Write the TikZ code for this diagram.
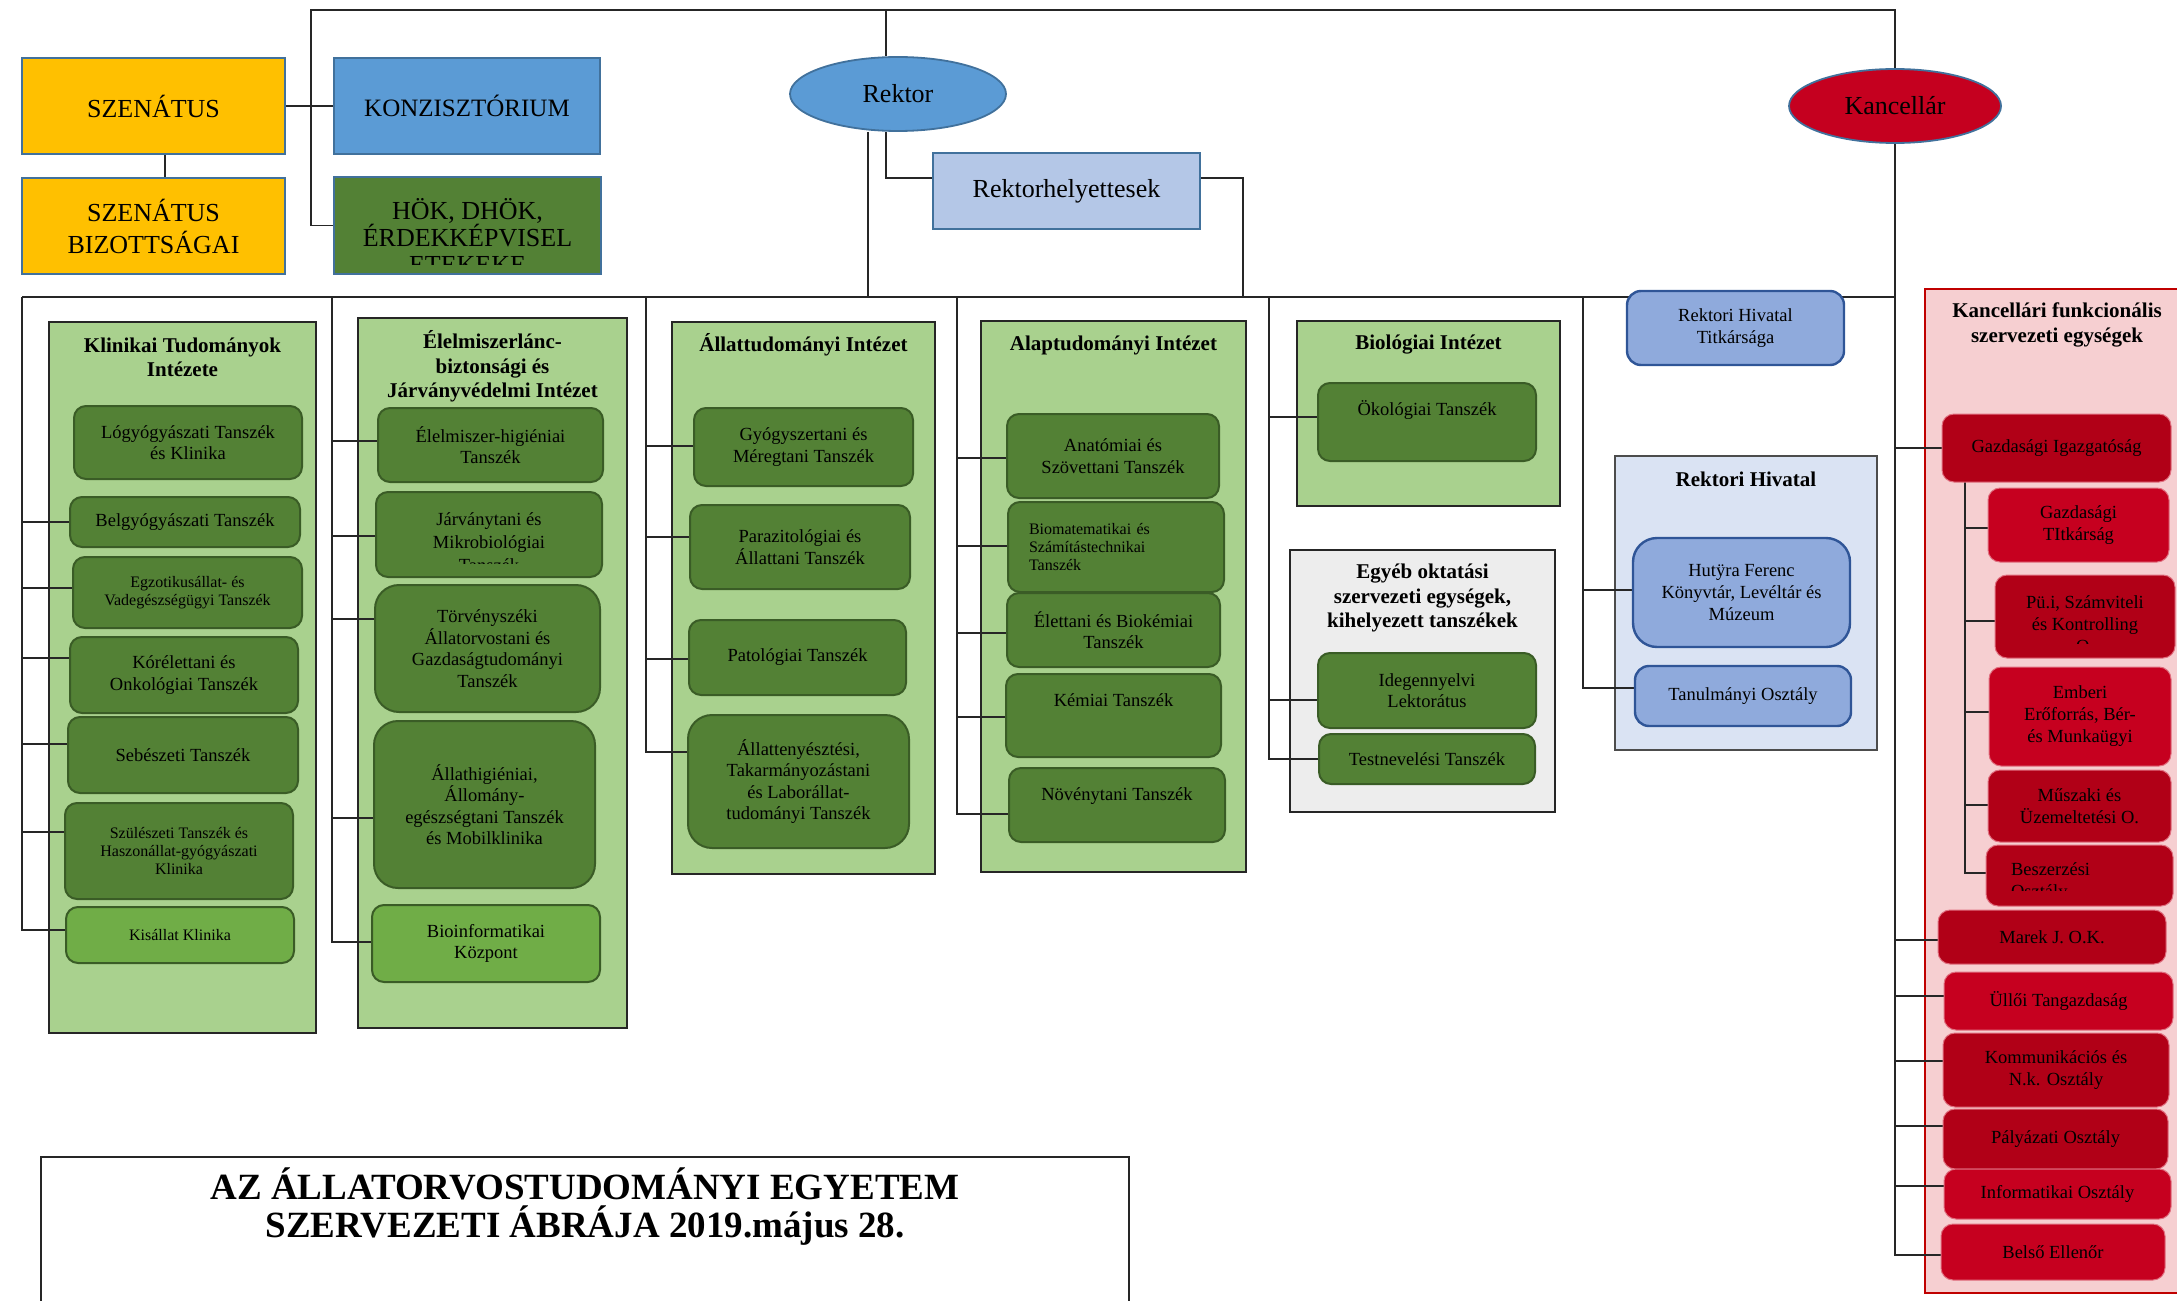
\documentclass[tikz,border=0pt]{standalone}
\usepackage{fontspec}
\setmainfont{Liberation Serif}
\usetikzlibrary{shapes.geometric}
\definecolor{gold}{HTML}{FFC000}
\definecolor{kblue}{HTML}{5B9BD5}
\definecolor{bblue}{HTML}{41719C}
\definecolor{hgreen}{HTML}{538135}
\definecolor{dgreen}{HTML}{3A5C26}
\definecolor{lgreen}{HTML}{70AD47}
\definecolor{cgreen}{HTML}{A9D18E}
\definecolor{rhblue}{HTML}{B4C7E7}
\definecolor{pblue}{HTML}{8FAADC}
\definecolor{pbord}{HTML}{2F5597}
\definecolor{paleblue}{HTML}{DAE3F3}
\definecolor{egray}{HTML}{EDEDED}
\definecolor{pinkc}{HTML}{F6CFD1}
\definecolor{redb}{HTML}{C00000}
\definecolor{kred}{HTML}{C5001F}
\definecolor{rbright}{HTML}{C6001F}
\definecolor{rdark}{HTML}{B10017}
\definecolor{rbord}{HTML}{E07080}
\pgfdeclarelayer{bg}
\pgfdeclarelayer{cn}
\pgfsetlayers{bg,cn,main}
\newcommand{\mkbox}[7]{\node[#2, minimum width={(#5-#3)*0.5pt}, minimum height={(#6-#4)*0.5pt}] (#1) at ({(#3+#5)/2},{(#4+#6)/2}) {#7};}
\newcommand{\liftt}[2]{\raisebox{#1}[\height][\depth]{#2}}
\tikzset{
  topbox/.style={draw=bblue, line width=0.9pt, inner sep=0pt, align=center, font=\fontsize{13}{13.5}\selectfont},
  cont/.style={draw=black!85, line width=0.8pt, fill=cgreen, inner sep=0pt},
  ctitle/.style={align=center, inner sep=0pt, font=\fontsize{10.5}{12.25}\selectfont\bfseries},
  dept/.style={draw=dgreen, line width=1pt, fill=hgreen, rounded corners=6pt, align=center, inner sep=0pt, font=\fontsize{9.25}{10.75}\selectfont},
  deptxt/.style={align=center, inner sep=0pt, font=\fontsize{9.25}{11.5}\selectfont},
  smallf/.style={font=\fontsize{8}{9}\selectfont},
  bluebox/.style={draw=pbord, line width=1.2pt, fill=pblue, rounded corners=7pt, align=center, inner sep=0pt, font=\fontsize{9.25}{10.8}\selectfont},
  redbox/.style={draw=rbord, line width=0.5pt, rounded corners=6pt, align=center, inner sep=0pt, font=\fontsize{9.25}{11}\selectfont},
  redtxt/.style={align=center, inner sep=0pt, font=\fontsize{9.25}{11}\selectfont},
  conn/.style={draw=black!85, line width=0.75pt},
  ellip/.style={ellipse, draw=bblue, line width=0.9pt, inner sep=0pt, font=\fontsize{13}{13.5}\selectfont}
}
\begin{document}
\begin{tikzpicture}[x=0.5pt,y=-0.5pt]
\useasboundingbox (0,0) rectangle (2177,1300);

% ---------- containers ----------
\begin{pgfonlayer}{bg}
\mkbox{cKlin}{cont}{49}{322}{316}{1033}{}
\mkbox{cElel}{cont}{358}{318}{627}{1028}{}
\mkbox{cAllat}{cont}{672}{322}{935}{874}{}
\mkbox{cAlap}{cont}{981}{321}{1246}{872}{}
\mkbox{cBio}{cont}{1297}{321}{1560}{506}{}
\mkbox{cEgy}{cont,fill=egray}{1290}{550}{1555}{812}{}
\mkbox{cRH}{cont,fill=paleblue,draw=black!70}{1615}{456}{1877}{750}{}
\mkbox{cKanc}{cont,fill=pinkc,draw=redb}{1925}{289}{2195}{1293}{}
\mkbox{titlebox}{cont,fill=white,draw=black!85}{41}{1157}{1129}{1340}{}
\end{pgfonlayer}

% ---------- top level ----------
\mkbox{szen}{topbox,fill=gold}{22}{58}{285}{154}{SZENÁTUS}
\mkbox{szenb}{topbox,fill=gold,font=\fontsize{13}{16}\selectfont}{22}{178}{285}{274}{SZENÁTUS\\BIZOTTSÁGAI}
\mkbox{konz}{topbox,fill=kblue,font=\fontsize{12.5}{13.5}\selectfont}{334}{58}{600}{154}{KONZISZTÓRIUM}
\mkbox{hok}{topbox,fill=hgreen}{334}{177}{601}{274}{}
\begin{scope}
\clip (334,177) rectangle (601,264);
\node[align=center, inner sep=0pt, font=\fontsize{13}{13.5}\selectfont] (hokt) at (467.5,236) {HÖK, DHÖK,\\ÉRDEKKÉPVISEL\\ETEKEKE};
\end{scope}
\node[ellip, fill=kblue, minimum width=108pt, minimum height=37pt] (rektor) at (898,94) {Rektor};
\node[ellip, fill=kred, minimum width=106pt, minimum height=37pt] (kanc) at (1895,106) {Kancellár};
\mkbox{rh}{topbox,fill=rhblue}{933}{153}{1200}{229}{Rektorhelyettesek}

% ---------- container titles ----------
\node[ctitle] (tKlin) at (182.5,357.5) {Klinikai Tudományok\\Intézete};
\node[ctitle] (tElel) at (492.5,366.5) {Élelmiszerlánc-\\biztonsági és\\Járványvédelmi Intézet};
\node[ctitle] (tAllat) at (803.5,345) {Állattudományi Intézet};
\node[ctitle] (tAlap) at (1113.5,345) {Alaptudományi Intézet};
\node[ctitle] (tBio) at (1428.5,345) {Biológiai Intézet};
\node[ctitle] (tEgy) at (1422.5,598) {Egyéb oktatási\\szervezeti egységek,\\kihelyezett tanszékek};
\node[ctitle] (tRH) at (1746,479) {Rektori Hivatal};
\node[ctitle] (tKanc) at (2057,325) {Kancellári funkcionális\\szervezeti egységek};

% ---------- Klinikai ----------
\mkbox{d1}{dept}{74}{406}{302}{479}{Lógyógyászati Tanszék\\és Klinika}
\mkbox{d2}{dept}{70}{497}{300}{547}{Belgyógyászati Tanszék}
\mkbox{d3}{dept,smallf}{73}{557}{302}{628}{Egzotikusállat- és\\Vadegészségügyi Tanszék}
\mkbox{d4}{dept}{70}{637}{298}{713}{Kórélettani és\\Onkológiai Tanszék}
\mkbox{d5}{dept}{68}{717}{298}{793}{Sebészeti Tanszék}
\mkbox{d6}{dept,smallf}{65}{803}{293}{899}{Szülészeti Tanszék és\\Haszonállat-gyógyászati\\Klinika}
\mkbox{d7}{dept,smallf,fill=lgreen}{66}{907}{294}{963}{Kisállat Klinika}

% ---------- Élelmiszerlánc ----------
\mkbox{e1}{dept}{378}{408}{603}{482}{Élelmiszer-higiéniai\\Tanszék}
\mkbox{e2}{dept}{376}{492}{602}{577}{}
\begin{scope}
\clip (376,492) rectangle (602,563);
\node[deptxt] (e2t) at (489,542) {Járványtani és\\Mikrobiológiai\\Tanszék};
\end{scope}
\mkbox{e3}{dept,rounded corners=12pt}{375}{585}{600}{712}{Törvényszéki\\Állatorvostani és\\Gazdaságtudományi\\Tanszék}
\mkbox{e4}{dept,rounded corners=12pt}{374}{721}{595}{888}{Állathigiéniai,\\Állomány-\\egészségtani Tanszék\\és Mobilklinika}
\mkbox{e5}{dept,fill=lgreen}{372}{905}{600}{982}{Bioinformatikai\\Központ}

% ---------- Állattudományi ----------
\mkbox{a1}{dept}{694}{408}{913}{486}{Gyógyszertani és\\Méregtani Tanszék}
\mkbox{a2}{dept}{690}{505}{910}{589}{Parazitológiai és\\Állattani Tanszék}
\mkbox{a3}{dept}{689}{620}{906}{695}{Patológiai Tanszék}
\mkbox{a4}{dept,rounded corners=12pt}{688}{715}{909}{848}{Állattenyésztési,\\Takarmányozástani\\és Laborállat-\\tudományi Tanszék}

% ---------- Alaptudományi ----------
\mkbox{b1}{dept}{1007}{414}{1219}{498}{Anatómiai és\\Szövettani Tanszék}
\mkbox{b2}{dept,smallf,align=left,text width=87pt}{1008}{502}{1224}{592}{Biomatematikai és\\Számítástechnikai\\Tanszék}
\mkbox{b3}{dept}{1007}{593}{1220}{667}{Élettani és Biokémiai\\Tanszék}
\mkbox{b4}{dept}{1006}{674}{1221}{757}{\liftt{7.5pt}{Kémiai Tanszék}}
\mkbox{b5}{dept}{1009}{768}{1225}{842}{\liftt{4.5pt}{Növénytani Tanszék}}

% ---------- Biológiai / Egyéb ----------
\mkbox{o1}{dept}{1318}{383}{1536}{461}{\liftt{6pt}{Ökológiai Tanszék}}
\mkbox{g1}{dept}{1318}{653}{1536}{728}{Idegennyelvi\\Lektorátus}
\mkbox{g2}{dept}{1319}{734}{1535}{784}{Testnevelési Tanszék}

% ---------- Rektori Hivatal ----------
\mkbox{rht}{bluebox}{1627}{291}{1844}{365}{Rektori Hivatal\\Titkársága}
\mkbox{hut}{bluebox,rounded corners=12pt}{1633}{538}{1850}{647}{Hutÿra Ferenc\\Könyvtár, Levéltár és\\Múzeum}
\mkbox{tan}{bluebox}{1635}{666}{1851}{726}{Tanulmányi Osztály}

% ---------- Kancellári ----------
\mkbox{k1}{redbox,fill=rdark}{1942}{414}{2171}{482}{Gazdasági Igazgatóság}
\mkbox{k2}{redbox,fill=rbright}{1988}{488}{2169}{562}{Gazdasági\\TItkárság}
\mkbox{k3}{redbox,fill=rdark}{1995}{575}{2175}{658}{}
\begin{scope}
\clip (1995,575) rectangle (2175,643);
\node[redtxt] (k3t) at (2085,624) {Pü.i, Számviteli\\és Kontrolling\\O.};
\end{scope}
\mkbox{k4}{redbox,fill=rbright}{1989}{667}{2171}{766}{Emberi\\Erőforrás, Bér-\\és Munkaügyi}
\mkbox{k5}{redbox,fill=rdark}{1988}{770}{2171}{842}{Műszaki és\\Üzemeltetési O.}
\mkbox{k6}{redbox,fill=rdark}{1986}{845}{2173}{906}{}
\begin{scope}
\clip (1986,845) rectangle (2173,890);
\node[redtxt, align=left, text width=68.5pt] (k6t) at (2079.5,882) {Beszerzési\\Osztály};
\end{scope}
\mkbox{k7}{redbox,fill=rdark}{1938}{910}{2166}{964}{Marek J. O.K.}
\mkbox{k8}{redbox,fill=rbright}{1944}{972}{2173}{1030}{Üllői Tangazdaság}
\mkbox{k9}{redbox,fill=rdark}{1943}{1033}{2169}{1107}{Kommunikációs és\\N.k. Osztály}
\mkbox{k10}{redbox,fill=rdark}{1943}{1109}{2168}{1169}{Pályázati Osztály}
\mkbox{k11}{redbox,fill=rbright}{1944}{1169}{2171}{1219}{Informatikai Osztály}
\mkbox{k12}{redbox,fill=rbright}{1941}{1224}{2165}{1280}{Belső Ellenőr}

% ---------- title ----------
\node[align=center, inner sep=0pt, font=\fontsize{18.5}{19}\selectfont\bfseries] (title) at (585,1207) {AZ ÁLLATORVOSTUDOMÁNYI EGYETEM\\SZERVEZETI ÁBRÁJA 2019.május 28.};

% ---------- connectors ----------
\begin{pgfonlayer}{cn}
\coordinate (tl) at (311,10);
\coordinate (tr) at (1895,10);
\coordinate (rt) at (886,10);
\coordinate (rm) at (868,297);
\coordinate (rhm) at (1243,297);
\coordinate (m0) at (22,297);
\coordinate (m1) at (1895,297);
\draw[conn] (hok.west) -| (tl) -- (tr) -- (kanc.north);
\draw[conn] (szen.east) -- (konz.west);
\draw[conn] ([xshift=5.75pt]szen.south) -- ([xshift=5.75pt]szenb.north);
\draw[conn] (rt) -- (rt |- rektor.north);
\draw[conn] (rt |- rektor.south) |- ([yshift=6.5pt]rh.west);
\draw[conn] (rm |- rektor.south) -- (rm);
\draw[conn] ([yshift=6.5pt]rh.east) -| (rhm);
\draw[conn] (m0) -- (m1);
\coordinate (t1) at (22,297);
\coordinate (t2) at (332,297);
\coordinate (t3) at (646,297);
\coordinate (t4) at (957,297);
\coordinate (t5) at (1269,297);
\coordinate (t6) at (1583,297);
\coordinate (gs) at (1965,482);
\foreach \n/\s in {d2/0,d3/2.25,d4/8.5,d5/5.5,d6/9.5,d7/2.5}
  \draw[conn] (t1) |- ([yshift=\s pt]\n.west);
\foreach \n/\s in {e1/2,e2/-0.75,e3/14.75,e4/-6.75,e5/0.75}
  \draw[conn] (t2) |- ([yshift=\s pt]\n.west);
\foreach \n/\s in {a1/0.5,a2/5,a3/-0.75,a4/14.75}
  \draw[conn] (t3) |- ([yshift=\s pt]\n.west);
\foreach \n/\s in {b1/-1,b2/0.5,b3/-1.5,b4/-0.75,b5/-4.5}
  \draw[conn] (t4) |- ([yshift=\s pt]\n.west);
\foreach \n/\s in {o1/2.5,g1/-4.75,g2/0}
  \draw[conn] (t5) |- ([yshift=\s pt]\n.west);
\foreach \n/\s in {hut/1.25,tan/4}
  \draw[conn] (t6) |- ([yshift=\s pt]\n.west);
\foreach \n/\s in {k1/0,k7/-1.5,k8/2.5,k9/4.5,k10/6.5,k11/4,k12/-1.5}
  \draw[conn] (kanc.south) |- ([yshift=\s pt]\n.west);
\foreach \n/\s in {k2/-1.5,k3/-2.25,k4/2.25,k5/0.5,k6/1.25}
  \draw[conn] (gs) |- ([yshift=\s pt]\n.west);
\end{pgfonlayer}
\end{tikzpicture}
\end{document}
